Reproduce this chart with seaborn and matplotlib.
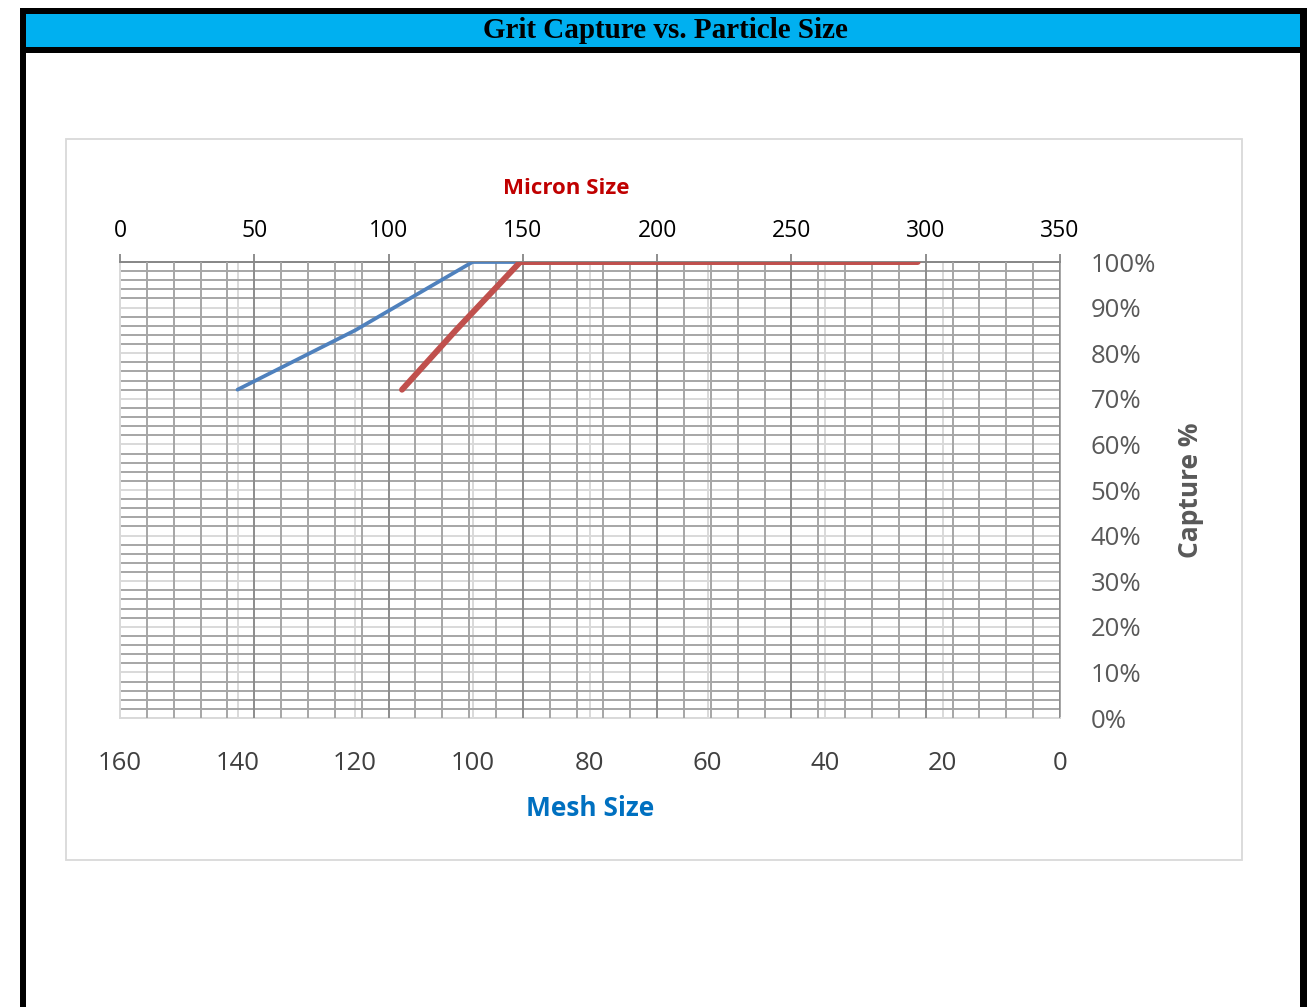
import matplotlib
matplotlib.use("Agg")
import matplotlib.pyplot as plt
from matplotlib.patches import Rectangle
from matplotlib.ticker import MultipleLocator
import seaborn as sns

# Capture by mesh size (blue series, bottom axis)
mesh_size = [140, 120, 100, 80, 60, 50]
mesh_capture = [72, 85, 100, 100, 100, 100]

# Capture by micron size (red series, top axis)
micron_size = [105, 125, 149, 177, 250, 297]
micron_capture = [72, 85, 100, 100, 100, 100]

mesh_ticks = [160, 140, 120, 100, 80, 60, 40, 20, 0]
micron_ticks = [0, 50, 100, 150, 200, 250, 300, 350]
capture_ticks = list(range(0, 101, 10))

title_text = "Grit Capture vs. Particle Size"

sns.set_style("white")
plt.rcParams["font.family"] = ["Open Sans", "DejaVu Sans"]

W, H = 1307, 1007
fig = plt.figure(figsize=(W / 100, H / 100), dpi=100)


def rect_px(x0, y0, x1, y1, **kw):
    """Rectangle given in pixel coordinates (origin top-left)."""
    return Rectangle((x0 / W, 1 - y1 / H), (x1 - x0) / W, (y1 - y0) / H,
                     transform=fig.transFigure, **kw)


# Outer frame and title band
fig.add_artist(rect_px(26, 14, 1300, 47, facecolor="#00b0f0", edgecolor="none"))
for x0, y0, x1, y1 in [(20, 8, 1307, 14), (20, 47, 1307, 53),
                       (20, 8, 26, 1007), (1300, 8, 1307, 1007)]:
    fig.add_artist(rect_px(x0, y0, x1, y1, facecolor="black", edgecolor="none"))
fig.text(665 / W, 1 - 31 / H, title_text, ha="center", va="center",
         fontsize=21, fontweight="bold", family="Liberation Serif", color="black")

# Chart area border
fig.add_artist(rect_px(66, 139, 1242, 860, facecolor="none",
                       edgecolor="#d9d9d9", linewidth=1.3))

# Base axes: mesh scale, capture grid
ax = fig.add_axes([120 / W, 1 - 718 / H, 940 / W, 456 / H])
ax.set_xlim(160, 0)
ax.set_ylim(0, 100)
ax.set_xticks(mesh_ticks, labels=[str(v) for v in mesh_ticks])
ax.tick_params(axis="x", length=0, pad=24, labelsize=18.5, labelcolor="#404040")
ax.yaxis.tick_right()
ax.set_yticks(capture_ticks, labels=[f"{v}%" for v in capture_ticks])
ax.yaxis.set_minor_locator(MultipleLocator(2))
ax.tick_params(axis="y", which="both", length=0, pad=22, labelsize=18.5,
               labelcolor="#595959")
ax.set_axisbelow(True)
ax.grid(axis="x", which="major", color="#d9d9d9", linewidth=1.4)
ax.grid(axis="y", which="major", color="#d9d9d9", linewidth=1.4)
ax.grid(axis="y", which="minor", color="#a6a6a6", linewidth=1.4)
for side, col in [("top", "#868686"), ("right", "#a6a6a6"),
                  ("left", "#d9d9d9"), ("bottom", "#d9d9d9")]:
    ax.spines[side].set_color(col)
    ax.spines[side].set_linewidth(1.4)

# Micron scale grid and top labels
axm = ax.twiny()
axm.set_xlim(0, 350)
axm.set_xticks(micron_ticks, labels=[str(v) for v in micron_ticks])
axm.xaxis.set_minor_locator(MultipleLocator(10))
axm.tick_params(axis="x", which="major", direction="out", length=6, width=1.3,
                color="#868686", pad=8, labelsize=16.5, labelcolor="black")
axm.tick_params(axis="x", which="minor", length=0)
axm.set_axisbelow(True)
axm.grid(axis="x", which="major", color="#8c8c8c", linewidth=1.4)
axm.grid(axis="x", which="minor", color="#a6a6a6", linewidth=1.4)
axm.xaxis.get_gridlines()[0].set_visible(False)
for s in axm.spines.values():
    s.set_visible(False)

# Blue series on mesh scale
axb = ax.twiny()
sns.lineplot(x=mesh_size, y=mesh_capture, ax=axb, color="#4f81bd",
             linewidth=2.7, solid_capstyle="round")
axb.set_xlim(160, 0)
axb.xaxis.set_visible(False)
for s in axb.spines.values():
    s.set_visible(False)

# Red series on micron scale
axr = ax.twiny()
sns.lineplot(x=micron_size, y=micron_capture, ax=axr, color="#c0504d",
             linewidth=4.3, solid_capstyle="round")
axr.set_xlim(0, 350)
axr.xaxis.set_visible(False)
for s in axr.spines.values():
    s.set_visible(False)

ax.set_ylim(0, 100)

# Axis titles
fig.text(566 / W, 1 - 189 / H, "Micron Size", ha="center", va="center",
         fontsize=16, fontweight="bold", color="#c00000")
fig.text(590 / W, 1 - 809 / H, "Mesh Size", ha="center", va="center",
         fontsize=19, fontweight="bold", color="#0070c0")
fig.text(1190 / W, 1 - 490 / H, "Capture %", ha="center", va="center",
         rotation=90, fontsize=19, fontweight="bold", color="#595959")

fig.savefig("out.png", dpi=100)
